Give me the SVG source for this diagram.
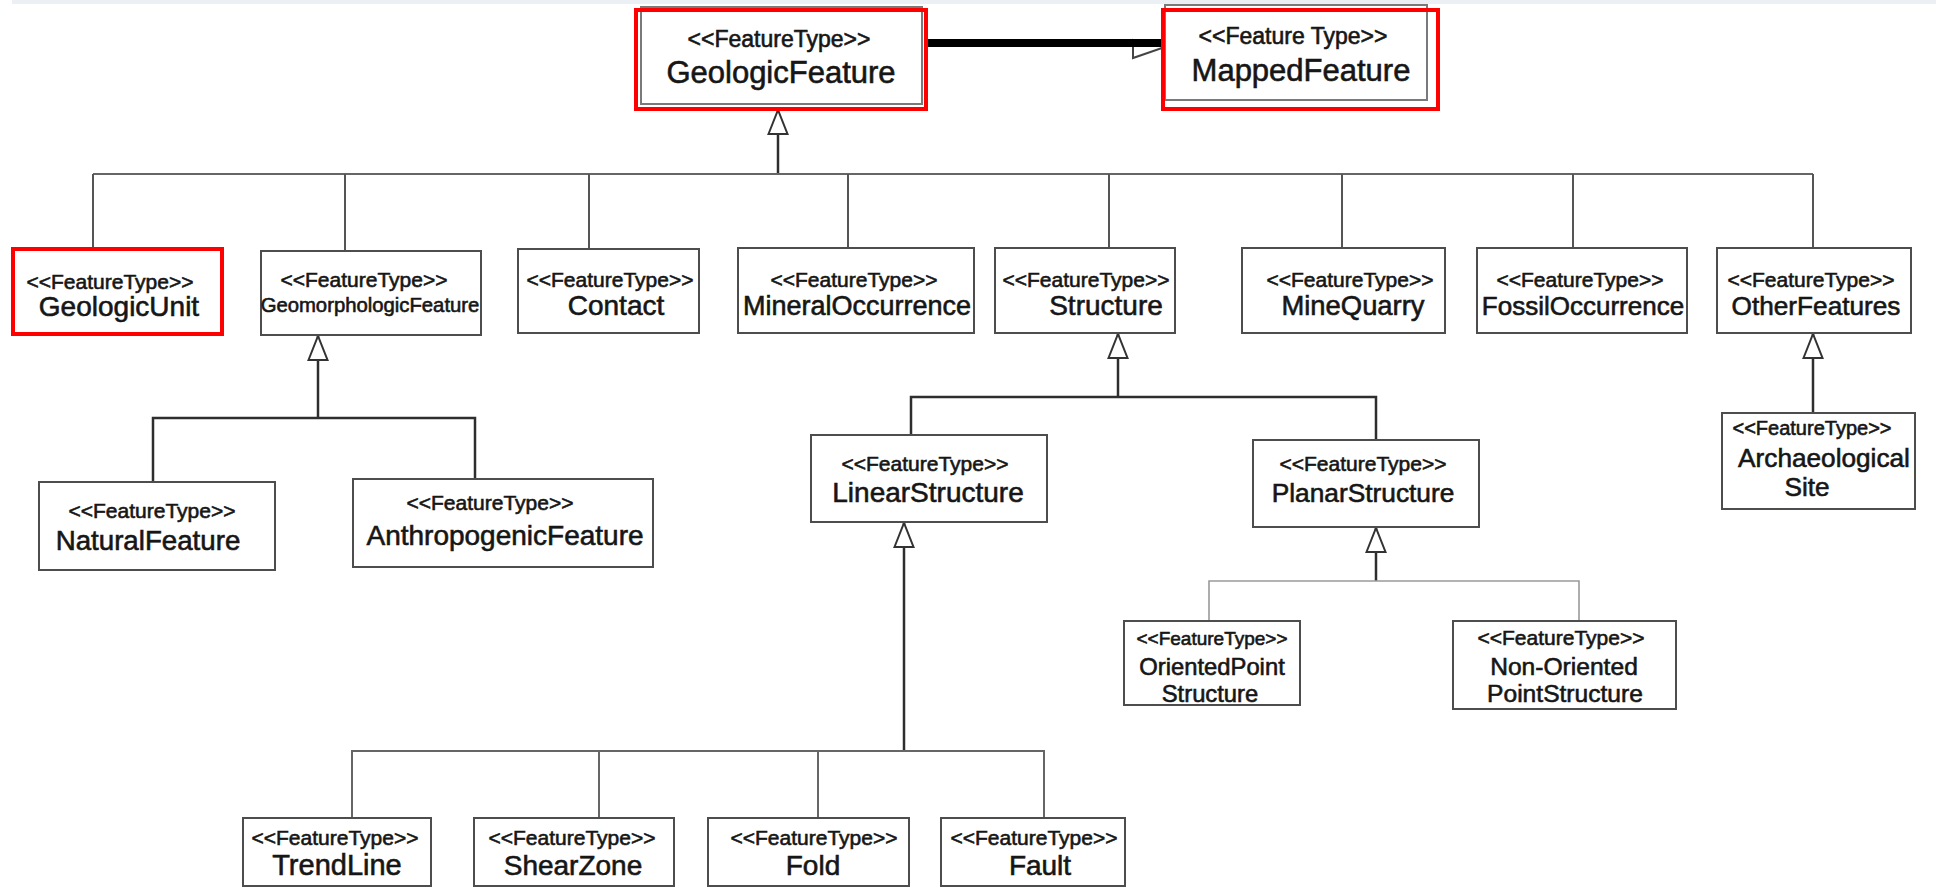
<svg xmlns="http://www.w3.org/2000/svg" width="1936" height="888" viewBox="0 0 1936 888">
  <defs>
    <style>
      text { font-family: "Liberation Sans", Arial, sans-serif; fill: #161616; text-anchor: middle; stroke: #161616; stroke-width: 0.6; }
      .box { fill: #ffffff; stroke: #4d4d4d; stroke-width: 2; }
      .ghost { fill: #ffffff; stroke: #7a7a7a; stroke-width: 2; }
      .hl { fill: none; stroke: #ff0000; stroke-width: 4; }
      .st { font-size: 21px; }
      .nm { font-size: 28px; }
      .big-st { font-size: 23px; }
      .big-nm { font-size: 31px; }
      .bus { fill: none; stroke: #666666; stroke-width: 2; }
      .drop { fill: none; stroke: #555555; stroke-width: 2; }
      .gen { fill: none; stroke: #2e2e2e; stroke-width: 2.5; marker-end: url(#hollow); }
      .sub { fill: none; stroke: #2e2e2e; stroke-width: 2.5; }
      .light { fill: none; stroke: #9a9a9a; stroke-width: 1.6; }
    </style>
    <!-- open triangle used for generalisation arrows -->
    <marker id="hollow" markerUnits="userSpaceOnUse" markerWidth="28" markerHeight="24" viewBox="0 0 28 24" refX="26" refY="12" orient="auto" overflow="visible">
      <path d="M2,2.5 L26,12 L2,21.5 Z" fill="#ffffff" stroke="#333333" stroke-width="2"/>
    </marker>
  </defs>

  <rect width="1936" height="888" fill="#ffffff"/>
  <rect x="12" y="0" width="1924" height="4" fill="#eceff4"/>

  <!-- connectors -->
  <g id="connectors">
    <!-- GeologicFeature to MappedFeature -->
    <polygon points="1133,40 1133,58 1165,47" fill="#ffffff" stroke="#444444" stroke-width="2"/>
    <line x1="926" y1="43" x2="1165" y2="43" stroke="#000000" stroke-width="8"/>

    <!-- top level generalisation -->
    <path class="gen" d="M778,174 V110"/>
    <path class="bus" d="M93,174 H1813"/>
    <path class="drop" d="M93,174 V249 M345,174 V251 M589,174 V249 M848,174 V248 M1109,174 V248 M1342,174 V248 M1573,174 V248 M1813,174 V248"/>

    <!-- GeomorphologicFeature children -->
    <path class="gen" d="M318,418 V336"/>
    <path class="sub" d="M153,482 V418 H475 V479"/>

    <!-- Structure children -->
    <path class="gen" d="M1118,397 V334"/>
    <path class="sub" d="M911,435 V397 H1376 V440"/>

    <!-- LinearStructure children -->
    <path class="gen" d="M904,751 V523"/>
    <path class="bus" d="M352,818 V751 H1044 V818 M599,751 V818 M818,751 V818"/>

    <!-- PlanarStructure children -->
    <path class="gen" d="M1376,581 V528"/>
    <path class="light" d="M1209,621 V581 H1579 V621"/>

    <!-- OtherFeatures child -->
    <path class="gen" d="M1813,413 V334"/>
  </g>

  <g id="geologic-feature">
    <rect class="ghost" x="641" y="7" width="281" height="97"/>
    <rect class="hl" x="636" y="10" width="290" height="99"/>
    <text class="big-st" x="779" y="47">&lt;&lt;FeatureType&gt;&gt;</text>
    <text class="big-nm" x="781" y="83">GeologicFeature</text>
  </g>

  <g id="mapped-feature">
    <rect class="ghost" x="1165" y="5" width="262" height="95"/>
    <rect class="hl" x="1163" y="10" width="275" height="99"/>
    <text class="big-st" x="1293" y="44">&lt;&lt;Feature Type&gt;&gt;</text>
    <text class="big-nm" x="1301" y="81">MappedFeature</text>
  </g>

  <g id="geologic-unit">
    <rect class="box" x="13" y="249" width="209" height="85"/>
    <rect class="hl" x="13" y="249" width="209" height="85"/>
    <text class="st" x="110" y="289">&lt;&lt;FeatureType&gt;&gt;</text>
    <text class="nm" x="119" y="316">GeologicUnit</text>
  </g>

  <g id="geomorphologic-feature">
    <rect class="box" x="261" y="251" width="220" height="84"/>
    <text class="st" x="364" y="287">&lt;&lt;FeatureType&gt;&gt;</text>
    <text x="370" y="312" style="font-size:20.3px">GeomorphologicFeature</text>
  </g>

  <g id="contact">
    <rect class="box" x="518" y="249" width="181" height="84"/>
    <text class="st" x="610" y="287">&lt;&lt;FeatureType&gt;&gt;</text>
    <text class="nm" x="616" y="315">Contact</text>
  </g>

  <g id="mineral-occurrence">
    <rect class="box" x="738" y="248" width="236" height="85"/>
    <text class="st" x="854" y="287">&lt;&lt;FeatureType&gt;&gt;</text>
    <text x="857" y="315" style="font-size:27px">MineralOccurrence</text>
  </g>

  <g id="structure">
    <rect class="box" x="995" y="248" width="180" height="85"/>
    <text class="st" x="1086" y="287">&lt;&lt;FeatureType&gt;&gt;</text>
    <text class="nm" x="1106" y="315">Structure</text>
  </g>

  <g id="mine-quarry">
    <rect class="box" x="1242" y="248" width="203" height="85"/>
    <text class="st" x="1350" y="287">&lt;&lt;FeatureType&gt;&gt;</text>
    <text x="1353" y="315" style="font-size:27.4px">MineQuarry</text>
  </g>

  <g id="fossil-occurrence">
    <rect class="box" x="1477" y="248" width="210" height="85"/>
    <text class="st" x="1580" y="287">&lt;&lt;FeatureType&gt;&gt;</text>
    <text x="1583" y="315" style="font-size:26px">FossilOccurrence</text>
  </g>

  <g id="other-features">
    <rect class="box" x="1717" y="248" width="194" height="85"/>
    <text class="st" x="1811" y="287">&lt;&lt;FeatureType&gt;&gt;</text>
    <text x="1816" y="315" style="font-size:26.2px">OtherFeatures</text>
  </g>

  <g id="natural-feature">
    <rect class="box" x="39" y="482" width="236" height="88"/>
    <text class="st" x="152" y="518">&lt;&lt;FeatureType&gt;&gt;</text>
    <text x="148" y="550" style="font-size:27.7px">NaturalFeature</text>
  </g>

  <g id="anthropogenic-feature">
    <rect class="box" x="353" y="479" width="300" height="88"/>
    <text class="st" x="490" y="510">&lt;&lt;FeatureType&gt;&gt;</text>
    <text class="nm" x="505" y="545">AnthropogenicFeature</text>
  </g>

  <g id="linear-structure">
    <rect class="box" x="811" y="435" width="236" height="87"/>
    <text class="st" x="925" y="471">&lt;&lt;FeatureType&gt;&gt;</text>
    <text class="nm" x="928" y="502">LinearStructure</text>
  </g>

  <g id="planar-structure">
    <rect class="box" x="1253" y="440" width="226" height="87"/>
    <text class="st" x="1363" y="471">&lt;&lt;FeatureType&gt;&gt;</text>
    <text x="1363" y="502" style="font-size:26.3px">PlanarStructure</text>
  </g>

  <g id="oriented-point-structure">
    <rect class="box" x="1124" y="621" width="176" height="84"/>
    <text x="1212" y="645" style="font-size:19px">&lt;&lt;FeatureType&gt;&gt;</text>
    <text x="1212" y="675" style="font-size:23.8px">OrientedPoint</text>
    <text x="1210" y="702" style="font-size:23.8px">Structure</text>
  </g>

  <g id="non-oriented-point-structure">
    <rect class="box" x="1453" y="621" width="223" height="88"/>
    <text class="st" x="1561" y="645">&lt;&lt;FeatureType&gt;&gt;</text>
    <text x="1564" y="675" style="font-size:24.6px">Non-Oriented</text>
    <text x="1565" y="702" style="font-size:24.6px">PointStructure</text>
  </g>

  <g id="archaeological-site">
    <rect class="box" x="1722" y="413" width="193" height="96"/>
    <text x="1812" y="435" style="font-size:20px">&lt;&lt;FeatureType&gt;&gt;</text>
    <text x="1824" y="467" style="font-size:26.2px">Archaeological</text>
    <text x="1807" y="496" style="font-size:26.2px">Site</text>
  </g>

  <g id="trend-line">
    <rect class="box" x="243" y="818" width="188" height="68"/>
    <text class="st" x="335" y="845">&lt;&lt;FeatureType&gt;&gt;</text>
    <text x="337" y="875" style="font-size:29px">TrendLine</text>
  </g>

  <g id="shear-zone">
    <rect class="box" x="474" y="818" width="200" height="68"/>
    <text class="st" x="572" y="845">&lt;&lt;FeatureType&gt;&gt;</text>
    <text class="nm" x="573" y="875">ShearZone</text>
  </g>

  <g id="fold">
    <rect class="box" x="708" y="818" width="201" height="68"/>
    <text class="st" x="814" y="845">&lt;&lt;FeatureType&gt;&gt;</text>
    <text class="nm" x="813" y="875">Fold</text>
  </g>

  <g id="fault">
    <rect class="box" x="941" y="818" width="184" height="68"/>
    <text class="st" x="1034" y="845">&lt;&lt;FeatureType&gt;&gt;</text>
    <text class="nm" x="1040" y="875">Fault</text>
  </g>
</svg>
